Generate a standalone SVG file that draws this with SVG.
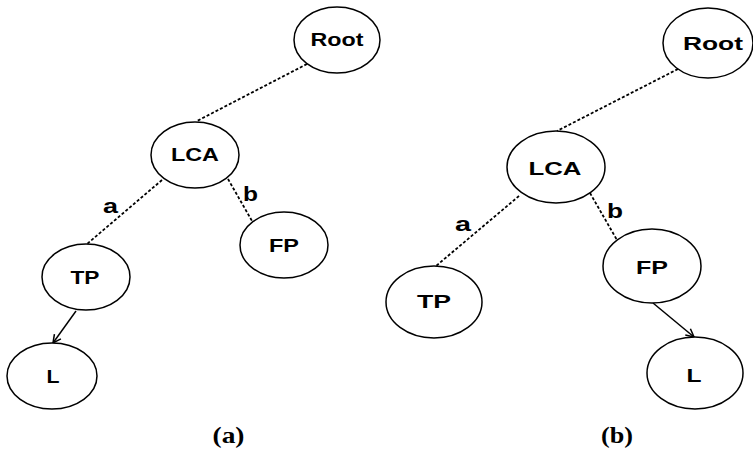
<svg xmlns="http://www.w3.org/2000/svg" width="753" height="450" viewBox="0 0 753 450">
<style>
.n{fill:#fff;stroke:#000;stroke-width:1.5}
.t{font-family:"Liberation Sans",Arial,sans-serif;font-weight:bold;font-size:18.5px;text-anchor:middle;fill:#000}
.lb{font-family:"Liberation Sans",Arial,sans-serif;font-weight:bold;font-size:21px;text-anchor:middle;fill:#000}
.cap{font-family:"Liberation Serif","Times New Roman",serif;font-weight:bold;font-size:23px;text-anchor:middle;fill:#000}
.d{stroke:#000;stroke-width:1.8;stroke-dasharray:3,2;fill:none}
.s{stroke:#000;stroke-width:1.5;fill:none}
</style>
<defs>
<marker id="ah" markerWidth="10" markerHeight="10" refX="9" refY="5" orient="auto" markerUnits="userSpaceOnUse">
<path d="M1,1 L9,5 L1,9" fill="none" stroke="#000" stroke-width="1.5"/>
</marker>
</defs>
<g id="connectors">
<line class="d" x1="307" y1="64" x2="197" y2="121"/>
<line class="d" x1="162" y1="180" x2="87" y2="244"/>
<line class="d" x1="228" y1="179" x2="252" y2="221"/>
<line class="s" x1="76" y1="311" x2="53" y2="343" marker-end="url(#ah)"/>
<line class="d" x1="678" y1="69" x2="557" y2="131"/>
<line class="d" x1="519" y1="196" x2="436" y2="266"/>
<line class="d" x1="590" y1="193" x2="617" y2="240"/>
<line class="s" x1="653" y1="303" x2="694" y2="337" marker-end="url(#ah)"/>
<text class="lb" x="110.5" y="213" textLength="15" lengthAdjust="spacingAndGlyphs">a</text>
<text class="lb" x="250.5" y="201" textLength="15" lengthAdjust="spacingAndGlyphs">b</text>
<text class="lb" x="463" y="231" font-size="22" textLength="16" lengthAdjust="spacingAndGlyphs">a</text>
<text class="lb" x="615" y="218" font-size="22" textLength="16" lengthAdjust="spacingAndGlyphs">b</text>
</g>
<g id="a-root"><ellipse class="n" cx="337" cy="40" rx="43" ry="33"/><text class="t" x="337" y="46" textLength="53" lengthAdjust="spacingAndGlyphs">Root</text></g>
<g id="a-lca"><ellipse class="n" cx="195" cy="155" rx="44" ry="33"/><text class="t" x="195" y="161" textLength="48" lengthAdjust="spacingAndGlyphs">LCA</text></g>
<g id="a-tp"><ellipse class="n" cx="86" cy="277" rx="44" ry="33"/><text class="t" x="85" y="284" textLength="29" lengthAdjust="spacingAndGlyphs">TP</text></g>
<g id="a-fp"><ellipse class="n" cx="284" cy="245" rx="44" ry="33"/><text class="t" x="284" y="252" textLength="30" lengthAdjust="spacingAndGlyphs">FP</text></g>
<g id="a-l"><ellipse class="n" cx="52" cy="376" rx="45" ry="33"/><text class="t" x="53" y="383" textLength="13" lengthAdjust="spacingAndGlyphs">L</text></g>
<g id="b-root"><ellipse class="n" cx="708" cy="43" rx="45" ry="35"/><text class="t" x="713" y="50" font-size="19.5" textLength="60" lengthAdjust="spacingAndGlyphs">Root</text></g>
<g id="b-lca"><ellipse class="n" cx="556" cy="167" rx="49" ry="36"/><text class="t" x="555" y="175" font-size="19" textLength="53" lengthAdjust="spacingAndGlyphs">LCA</text></g>
<g id="b-tp"><ellipse class="n" cx="434" cy="302" rx="48" ry="36"/><text class="t" x="434" y="308" font-size="19" textLength="34" lengthAdjust="spacingAndGlyphs">TP</text></g>
<g id="b-fp"><ellipse class="n" cx="652" cy="266" rx="49" ry="37"/><text class="t" x="652" y="274" font-size="19" textLength="32" lengthAdjust="spacingAndGlyphs">FP</text></g>
<g id="b-l"><ellipse class="n" cx="695" cy="373" rx="48" ry="36"/><text class="t" x="694" y="382" font-size="19" textLength="15" lengthAdjust="spacingAndGlyphs">L</text></g>
<text class="cap" x="228.5" y="443" textLength="32" lengthAdjust="spacingAndGlyphs">(a)</text>
<text class="cap" x="617" y="443" textLength="32" lengthAdjust="spacingAndGlyphs">(b)</text>
</svg>
